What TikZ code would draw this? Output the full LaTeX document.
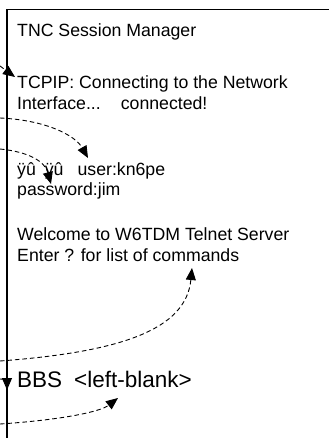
\documentclass[tikz,border=0pt]{standalone}
\usepackage{fontspec}
\setmainfont{Liberation Sans}
\usetikzlibrary{arrows.meta, positioning}

\begin{document}
\begin{tikzpicture}[
    x=1pt, y=-1pt,
    msg/.style={anchor=base west, inner sep=0pt, font=\fontsize{17.7pt}{21pt}\selectfont},
    big/.style={anchor=base west, inner sep=0pt, font=\fontsize{22.5pt}{26pt}\selectfont},
    arrow/.style={-{Triangle[length=12pt, width=10pt]}, dash pattern=on 4.5pt off 3pt, line width=0.9pt}
]
\useasboundingbox (0,0) rectangle (329,438);

% session window frame
\draw[line width=1.2pt] (7,438) -- (7,9.5) -- (329,9.5);

\node[msg] (title) at (17,37) {TNC Session Manager};
\node[msg] (tcpip) at (17,89) {TCPIP: Connecting to the Network};
\node[msg] (iface) at (17,110) {Interface...\hspace{20pt}connected!};
\node[msg] (user) at (17,176) {ÿû\hspace{9pt}ÿû\hspace{14pt}user:kn6pe};
\node[msg] (pass) at (17,196) {password:jim};
\node[msg] (welcome) at (17,240) {Welcome to W6TDM Telnet Server};
\node[msg] (enter) at (17,261) {Enter ? for list of commands};
\node[big] (bbs) at (17,387) {BBS\hspace{12pt}<left-blank>};

% ends of the incoming and outgoing traffic
\coordinate (in1) at (0,66);
\coordinate (in2) at (0,118);
\coordinate (in3) at (0,149);
\coordinate (out1) at (0,361);
\coordinate (in4) at (0,379);
\coordinate (out2) at (0,424);
\coordinate (tcpipTip) at (15,77);
\coordinate (userTip) at (88,158);
\coordinate (passTip) at (51,184);
\coordinate (enterTip) at (192,268);
\coordinate (bbsTip) at (7,390);
\coordinate (blankTip) at (118,398);

\draw[arrow] (in1) -- (tcpipTip);
\draw[arrow] (in2) .. controls (45,120) and (75,135) .. (userTip);
\draw[arrow] (in3) .. controls (30,152) and (45,162) .. (passTip);
\draw[arrow] (out1) .. controls (120,352) and (186,330) .. (enterTip);
\draw[arrow] (in4) .. controls (5,379) and (7,381) .. (bbsTip);
\draw[arrow] (out2) .. controls (60,420) and (100,412) .. (blankTip);

\end{tikzpicture}
\end{document}
